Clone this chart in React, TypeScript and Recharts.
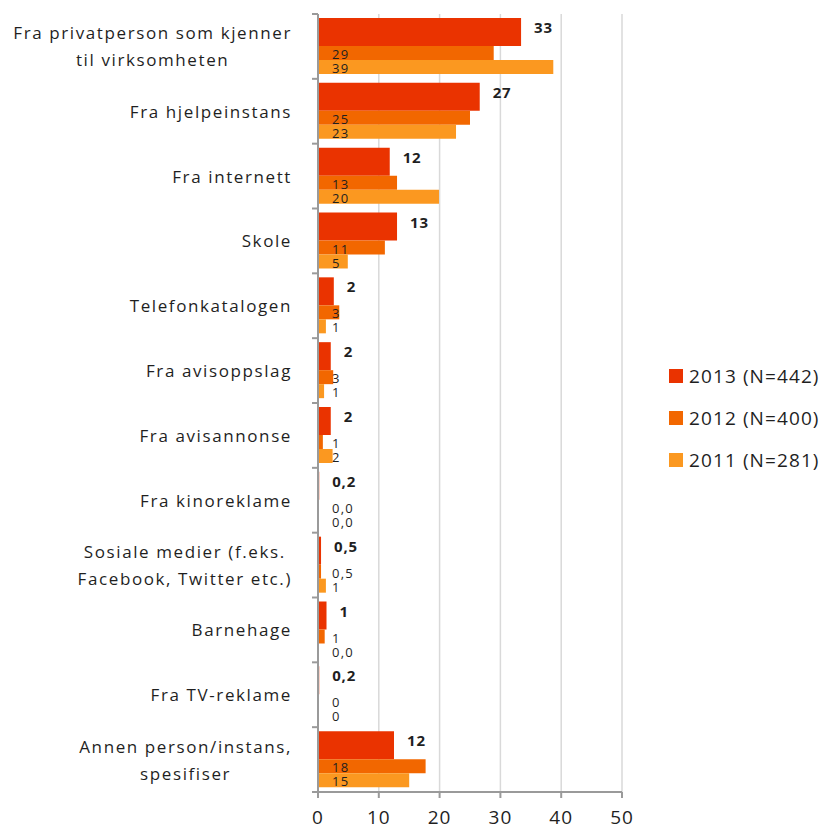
import React from 'react';
import { BarChart, Bar, XAxis, YAxis, CartesianGrid, LabelList } from 'recharts';

const categories = [
  'Fra privatperson som kjenner\ntil virksomheten',
  'Fra hjelpeinstans',
  'Fra internett',
  'Skole',
  'Telefonkatalogen',
  'Fra avisoppslag',
  'Fra avisannonse',
  'Fra kinoreklame',
  'Sosiale medier (f.eks.\nFacebook, Twitter etc.)',
  'Barnehage',
  'Fra TV-reklame',
  'Annen person/instans,\nspesifiser',
];

const values2013 = [33.4, 26.6, 11.8, 13, 2.6, 2.1, 2.1, 0.2, 0.5, 1.4, 0.2, 12.5];
const values2012 = [28.9, 25, 13, 11, 3.5, 2.5, 0.8, 0, 0.5, 1.1, 0, 17.7];
const values2011 = [38.7, 22.7, 19.9, 4.9, 1.3, 1, 2.4, 0, 1.3, 0, 0, 15];

const labels2013 = ['33', '27', '12', '13', '2', '2', '2', '0,2', '0,5', '1', '0,2', '12'];
const labels2012 = ['29', '25', '13', '11', '3', '3', '1', '0,0', '0,5', '1', '0', '18'];
const labels2011 = ['39', '23', '20', '5', '1', '1', '2', '0,0', '1', '0,0', '0', '15'];

const xTicks = [0, 10, 20, 30, 40, 50];

const series = [
  { key: 'y2013', label: 'l2013', name: '2013 (N=442)', color: '#EA3300', size: 28 },
  { key: 'y2012', label: 'l2012', name: '2012 (N=400)', color: '#F26700', size: 14 },
  { key: 'y2011', label: 'l2011', name: '2011 (N=281)', color: '#FB9820', size: 14 },
];

const data = categories.map((cat, i) => ({
  cat,
  y2013: values2013[i],
  y2012: values2012[i],
  y2011: values2011[i],
  l2013: labels2013[i],
  l2012: labels2012[i],
  l2011: labels2011[i],
}));

const FONT = '"Open Sans", sans-serif';
const TEXT = '#1f1f1f';
const AXIS = '#9a9a9a';
const CAT_SIZE = 17;
const CAT_SPACING = 1.6;

let ctx: CanvasRenderingContext2D | null = null;
const measure = (s: string) => {
  if (!ctx) ctx = document.createElement('canvas').getContext('2d');
  const base = ctx ? (ctx.font = `${CAT_SIZE}px "Open Sans"`, ctx.measureText(s).width) : s.length * CAT_SIZE * 0.5;
  return base + s.length * CAT_SPACING;
};

const CategoryTick = (props: any) => {
  const { x, y, payload, index } = props;
  const half = payload.offset || 0;
  const lines = String(payload.value).split('\n');
  const widest = Math.max(...lines.map((l) => measure(l)));
  const cx = x - 26 - widest / 2;
  const lh = 27;
  return (
    <g>
      <line x1={x - 6} x2={x} y1={y - half} y2={y - half} stroke={AXIS} strokeWidth={2} />
      {index === categories.length - 1 && (
        <line x1={x - 6} x2={x} y1={y + half} y2={y + half} stroke={AXIS} strokeWidth={2} />
      )}
      {lines.map((l, i) => (
        <text
          key={i}
          x={cx}
          y={y + (i - (lines.length - 1) / 2) * lh}
          textAnchor="middle"
          dominantBaseline="central"
          fontFamily={FONT}
          fontSize={CAT_SIZE}
          letterSpacing={CAT_SPACING}
          fill={TEXT}
        >
          {l}
        </text>
      ))}
    </g>
  );
};

const XTick = (props: any) => {
  const { x, y, payload } = props;
  return (
    <text
      x={x}
      y={y + 19}
      textAnchor="middle"
      dominantBaseline="central"
      fontFamily={FONT}
      fontSize={19}
      letterSpacing={1}
      fill={TEXT}
    >
      {payload.value}
    </text>
  );
};

const OuterLabel = (props: any) => {
  const { x, y, width, value } = props;
  return (
    <text
      x={x + width + 13}
      y={y + 9}
      dominantBaseline="central"
      fontFamily={FONT}
      fontSize={15}
      fontWeight="bold"
      letterSpacing={0.8}
      fill={TEXT}
    >
      {value}
    </text>
  );
};

const InnerLabel = (props: any) => {
  const { x, y, height, value } = props;
  return (
    <text
      x={x + 14}
      y={y + height / 2 + 1}
      dominantBaseline="central"
      fontFamily={FONT}
      fontSize={13}
      letterSpacing={1.2}
      fill={TEXT}
    >
      {value}
    </text>
  );
};

export default function App() {
  return (
    <div style={{ position: 'relative', width: 820, height: 829, background: '#fff' }}>
      <style>{'body{margin:0}'}</style>
      <BarChart
        width={820}
        height={829}
        data={data}
        layout="vertical"
        margin={{ top: 14, right: 198, bottom: 0, left: 0 }}
        barGap={0}
        barCategoryGap={0}
      >
        <CartesianGrid horizontal={false} stroke="#d9d9d9" strokeWidth={1.5} />
        <XAxis
          type="number"
          domain={[0, 50]}
          ticks={xTicks}
          height={37}
          stroke={AXIS}
          strokeWidth={2}
          tickSize={6}
          tickMargin={0}
          tick={<XTick />}
        />
        <YAxis
          type="category"
          dataKey="cat"
          width={318}
          stroke={AXIS}
          strokeWidth={2}
          tickLine={false}
          tickSize={0}
          tickMargin={0}
          interval={0}
          tick={<CategoryTick />}
        />
        {series.map((s, i) => (
          <Bar
            key={s.key}
            dataKey={s.key}
            name={s.name}
            fill={s.color}
            barSize={s.size}
            minPointSize={0.01}
            isAnimationActive={false}
          >
            <LabelList dataKey={s.label} content={i === 0 ? <OuterLabel /> : <InnerLabel />} />
          </Bar>
        ))}
      </BarChart>
      <div
        style={{
          position: 'absolute',
          left: 669,
          top: 355,
          fontFamily: FONT,
          fontSize: 19,
          letterSpacing: 1.1,
          color: TEXT,
        }}
      >
        {series.map((s) => (
          <div key={s.key} style={{ display: 'flex', alignItems: 'center', height: 42, whiteSpace: 'nowrap' }}>
            <span style={{ width: 14, height: 14, background: s.color, marginRight: 6, flex: 'none' }} />
            {s.name}
          </div>
        ))}
      </div>
    </div>
  );
}
